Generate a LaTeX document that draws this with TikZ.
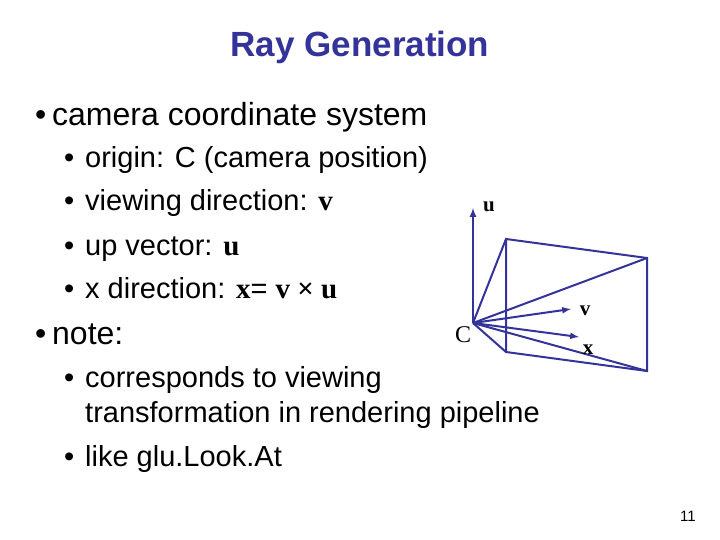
\documentclass[tikz,border=0pt]{standalone}
\usepackage{fontspec}
\setmainfont{Liberation Sans}
\newfontfamily\tms{Liberation Serif}
\definecolor{dblue}{HTML}{333399}
\begin{document}
\begin{tikzpicture}[x=1pt,y=-1pt,
  txt/.style={anchor=base west,inner sep=0pt,font=\fontsize{32}{36}\selectfont},
  sub/.style={anchor=base west,inner sep=0pt,font=\fontsize{29}{33}\selectfont},
  ln/.style={dblue,line width=2pt},
  arr/.style={ln,-latex},
  lab/.style={inner sep=0pt,font=\tms\bfseries\fontsize{21}{24}\selectfont}]
\useasboundingbox (0,0) rectangle (720,540);
\node[font=\bfseries\fontsize{35}{40}\selectfont,text=dblue] (title) at (360,47) {Ray Generation};
\node[txt] (b1) at (35,126) {•};
\node[txt] (t1) at (52,126) {camera coordinate system};
\node[sub] (s1b) at (64,168) {•}; \node[sub] (s1) at (85,168) {origin: C (camera position)};
\node[sub] (s2b) at (64,211) {•}; \node[sub] (s2) at (85,211) {viewing direction: {\tms\bfseries v}};
\node[sub] (s3b) at (64,255) {•}; \node[sub] (s3) at (85,255) {up vector: {\tms\bfseries u}};
\node[sub] (s4b) at (64,298) {•}; \node[sub] (s4) at (85,298) {x direction: {\tms\bfseries x}= {\tms\bfseries v × u}};
\node[txt] (b2) at (35,344) {•};
\node[txt] (t2) at (52,344) {note:};
\node[sub] (s5b) at (64,387) {•}; \node[sub] (s5) at (85,387) {corresponds to viewing};
\node[sub] (s6) at (85,422) {transformation in rendering pipeline};
\node[sub] (s7b) at (64,466) {•}; \node[sub] (s7) at (85,466) {like glu.Look.At};
\node[font=\fontsize{15}{18}\selectfont] (pg) at (688,516) {11};
% diagram
\coordinate (C) at (473,323);
\coordinate (tl) at (506,239);
\coordinate (tr) at (647,258);
\coordinate (br) at (647,371);
\coordinate (bl) at (506,352);
\coordinate (ue) at (473,208);
\coordinate (ve) at (571,309);
\coordinate (xe) at (579,337);
\draw[ln] (tl) -- (tr) -- (br) -- (bl) -- cycle;
\draw[ln] (C) -- (tl); \draw[ln] (C) -- (tr); \draw[ln] (C) -- (br); \draw[ln] (C) -- (bl);
\draw[arr] (C) -- (ue);
\draw[arr] (C) -- (ve);
\draw[arr] (C) -- (xe);
\node[lab] (ul) at (489,207) {u};
\node[lab] (vl) at (585,311) {v};
\node[lab] (xl) at (588,350) {x};
\node[inner sep=0pt,font=\tms\fontsize{24}{27}\selectfont] (Cl) at (463,335) {C};
\end{tikzpicture}
\end{document}
